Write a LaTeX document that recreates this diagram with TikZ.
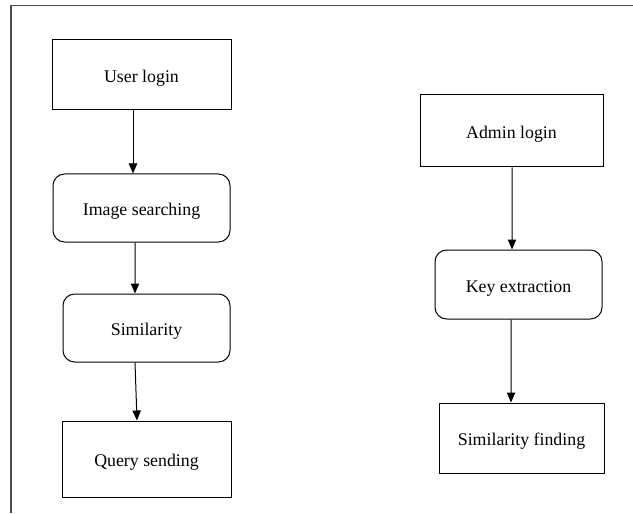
\documentclass[tikz,border=0pt]{standalone}
\usepackage{fontspec}
\setmainfont{Liberation Serif}
\usetikzlibrary{arrows.meta}
\begin{document}
\begin{tikzpicture}[x=0.6pt, y=-0.6pt,
  box/.style={rectangle, draw, line width=0.6pt, text height=9.4pt, text depth=0pt, font=\fontsize{10.7}{13}\selectfont},
  roundbox/.style={box, rounded corners=7pt},
  flow/.style={-{Triangle[length=6pt, width=5pt]}, line width=0.6pt}]
  \useasboundingbox (0,0) rectangle (633,513);
  % Frame
  \draw[line width=0.9pt, black!70] (633,5.5) -- (11,5.5) -- (11,513);
  % Nodes
  \node (user-login) [box, minimum width=107.4pt, minimum height=42pt] at (141.5,75) {User login};
  \node (image-searching) [roundbox, minimum width=106.2pt, minimum height=40.8pt] at (141.5,208) {Image searching};
  \node (similarity) [roundbox, minimum width=100.2pt, minimum height=40.8pt] at (146.5,328) {Similarity};
  \node (query-sending) [box, minimum width=101.4pt, minimum height=45.6pt] at (146.5,459) {Query sending};
  \node (admin-login) [box, minimum width=109.8pt, minimum height=43.2pt] at (511.5,131) {Admin login};
  \node (key-extraction) [roundbox, minimum width=100.2pt, minimum height=41.4pt] at (518.5,284.5) {Key extraction};
  \node (similarity-finding) [box, minimum width=99pt, minimum height=42pt] at (521.5,438) {Similarity finding};
  % Arrows
  \draw[flow] ([xshift=-5.1pt]user-login.south) -- ([xshift=-5.1pt]image-searching.north);
  \draw[flow] ([xshift=-3.9pt]image-searching.south) -- ([xshift=-6.9pt]similarity.north);
  \draw[flow] ([xshift=-6.9pt]similarity.south) -- ([xshift=-5.7pt]query-sending.north);
  \draw[flow] ([xshift=0.3pt]admin-login.south) -- ([xshift=-3.9pt]key-extraction.north);
  \draw[flow] ([xshift=-4.5pt]key-extraction.south) -- ([xshift=-6.3pt]similarity-finding.north);
\end{tikzpicture}
\end{document}
